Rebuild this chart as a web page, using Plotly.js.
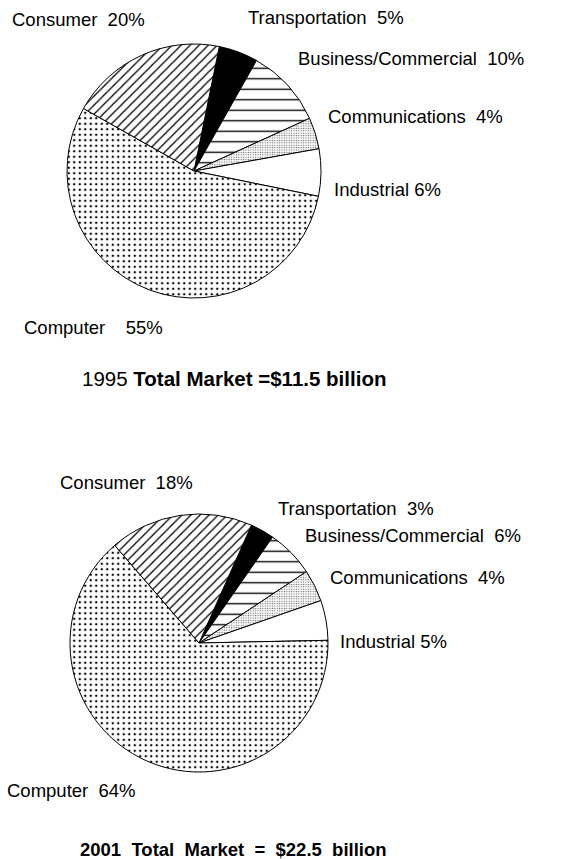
<!DOCTYPE html>
<html>
<head>
<meta charset="utf-8">
<script src="https://cdn.plot.ly/plotly-3.0.1.min.js"></script>
<style>html,body{margin:0;padding:0;background:#fff;}#chart{width:583px;height:859px;}</style>
</head>
<body>
<div id="chart"></div>
<script>
// Data (clockwise order starting at Transportation)
var categories = ["Transportation", "Business/Commercial", "Communications", "Industrial", "Computer", "Consumer"];
var values1995 = [5, 10, 4, 6, 55, 20];
var values2001 = [3, 6, 4, 5, 64, 18];
var title1995Year = "1995";
var title1995Rest = "Total Market =$11.5 billion";
var title2001 = "2001  Total  Market  =  $22.5  billion";

// Styles per slice
var sliceColors = ["#000000", "#ffffff", "#efefef", "#ffffff", "#ffffff", "#ffffff"];
var patShapes = ["", "-", ".", "", ".", "/"];
var patSizes = [8, 10.5, 2.4, 8, 5.5, 6.4];
var patSolid = [0.2, 0.13, 0.25, 0.2, 0.15, 0.2];
var patFg = ["#000", "#000", "#666", "#000", "#000", "#000"];

function pieTrace(vals, dom, rot) {
  return {
    type: "pie",
    labels: categories,
    values: vals,
    sort: false,
    direction: "clockwise",
    rotation: rot,
    textinfo: "none",
    hoverinfo: "label+percent",
    showlegend: false,
    domain: dom,
    marker: {
      colors: sliceColors,
      line: {color: "#000", width: 1},
      pattern: {shape: patShapes, size: patSizes, solidity: patSolid, fgcolor: patFg, fgopacity: 1}
    }
  };
}

var W = 583, H = 859;
function dx(px) { return px / W; }
function dy(px) { return 1 - px / H; }

var traces = [
  pieTrace(values1995, {x: [dx(67), dx(321)], y: [dy(298), dy(44)]}, 11.5),
  pieTrace(values2001, {x: [dx(70), dx(328)], y: [dy(772), dy(514)]}, 24)
];

var nb = "\u00a0";
function sp(n) { return new Array(n + 1).join(nb); }

// label positions (left px, centre-y px) – layout only
var pos1995 = [[246, 18], [296, 58], [326, 116], [332, 189], [22, 328], [10, 20]];
var gap1995 = [2, 2, 2, 1, 4, 2];
var pos2001 = [[276, 508], [303, 535], [328, 577], [338, 641], [5, 790], [58, 482]];
var gap2001 = [2, 2, 2, 1, 2, 2];

var annotations = [];
var fam = "Liberation Sans, Arial, Helvetica, sans-serif";
var fs = 18.5;
categories.forEach(function (c, i) {
  annotations.push({
    xref: "paper", yref: "paper", x: dx(pos1995[i][0]), y: dy(pos1995[i][1]),
    xanchor: "left", yanchor: "middle", showarrow: false,
    text: c + sp(gap1995[i]) + values1995[i] + "%",
    font: {family: fam, size: fs, color: "#000"}
  });
  annotations.push({
    xref: "paper", yref: "paper", x: dx(pos2001[i][0]), y: dy(pos2001[i][1]),
    xanchor: "left", yanchor: "middle", showarrow: false,
    text: c + sp(gap2001[i]) + values2001[i] + "%",
    font: {family: fam, size: fs, color: "#000"}
  });
});
annotations.push({
  xref: "paper", yref: "paper", x: dx(80), y: dy(378), xanchor: "left", yanchor: "middle", showarrow: false,
  text: title1995Year + " <b>" + title1995Rest + "</b>",
  font: {family: fam, size: 20.5, color: "#000"}
});
annotations.push({
  xref: "paper", yref: "paper", x: dx(78), y: dy(849), xanchor: "left", yanchor: "middle", showarrow: false,
  text: "<b>" + title2001.replace(/ /g, nb) + "</b>",
  font: {family: fam, size: 18.5, color: "#000"}
});

var layout = {
  width: W, height: H,
  margin: {l: 0, r: 0, t: 0, b: 0},
  paper_bgcolor: "#fff", plot_bgcolor: "#fff",
  annotations: annotations
};

Plotly.newPlot("chart", traces, layout, {displayModeBar: false, staticPlot: true});
</script>
</body>
</html>
